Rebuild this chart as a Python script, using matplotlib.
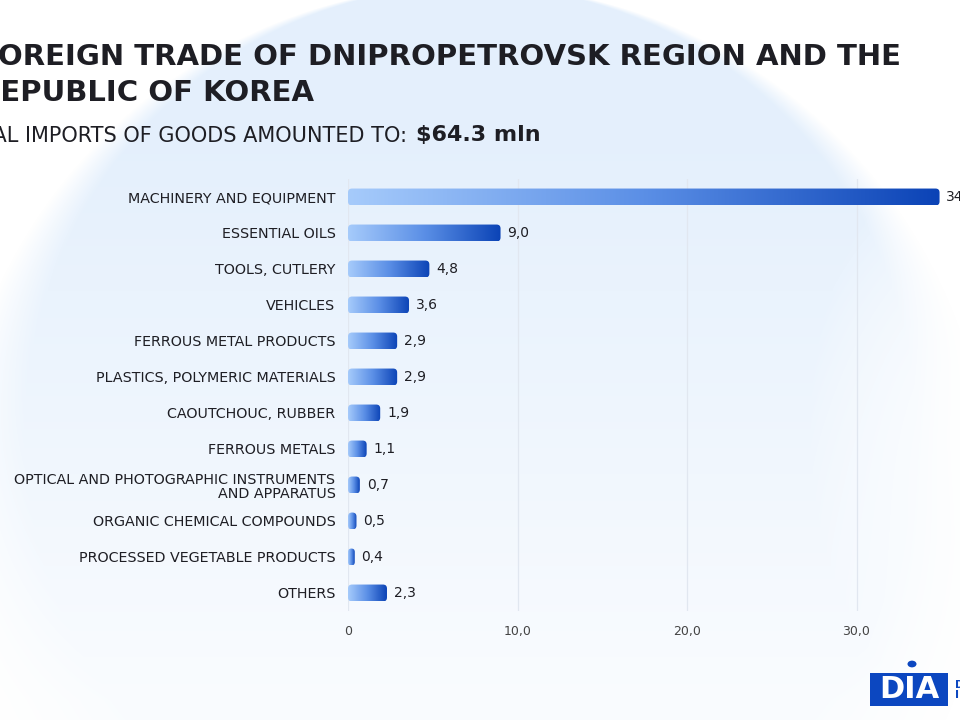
import numpy as np
import matplotlib.pyplot as plt
from matplotlib.colors import LinearSegmentedColormap
from matplotlib.patches import FancyBboxPatch, Circle, Rectangle

# === Data ===
categories = [
    "MACHINERY AND EQUIPMENT",
    "ESSENTIAL OILS",
    "TOOLS, CUTLERY",
    "VEHICLES",
    "FERROUS METAL PRODUCTS",
    "PLASTICS, POLYMERIC MATERIALS",
    "CAOUTCHOUC, RUBBER",
    "FERROUS METALS",
    "OPTICAL AND PHOTOGRAPHIC INSTRUMENTS\nAND APPARATUS",
    "ORGANIC CHEMICAL COMPOUNDS",
    "PROCESSED VEGETABLE PRODUCTS",
    "OTHERS",
]
values = [34.9, 9.0, 4.8, 3.6, 2.9, 2.9, 1.9, 1.1, 0.7, 0.5, 0.4, 2.3]
value_labels = ["34,9", "9,0", "4,8", "3,6", "2,9", "2,9", "1,9", "1,1", "0,7", "0,5", "0,4", "2,3"]
xticks = [0, 10, 20, 30]
xtick_labels = ["0", "10,0", "20,0", "30,0"]

title = "FOREIGN TRADE OF DNIPROPETROVSK REGION AND THE\nREPUBLIC OF KOREA"
subtitle = "TOTAL IMPORTS OF GOODS AMOUNTED TO:"
total = "$64.3 mln"

W, H = 960, 720
text_col = "#1e1e24"
bar_cmap = LinearSegmentedColormap.from_list("bar", ["#a6cbfb", "#5b8fe6", "#0b43b6"])

fig = plt.figure(figsize=(9.6, 7.2), dpi=100)
fig.patch.set_facecolor("white")

# === Background: soft light-blue disc fading downwards ===
bg = fig.add_axes([0, 0, 1, 1], zorder=-5)
yy, xx = np.mgrid[0:H, 0:W].astype(float)
d = np.hypot(xx - 470, yy - 467)
soft = 3 + yy / H * 110
disc = np.clip((482 - d) / soft + 0.5, 0, 1)
vert = np.clip(1.0 - (yy - 140) / 700, 0.2, 1.0)
glow = np.clip(1 - np.hypot((xx - 1000) / 190, (yy - 430) / 300), 0, 1) ** 0.8
inten = disc * vert * (1 - glow)
blue = np.array([0.895, 0.94, 0.99])
img = 1 - (1 - blue)[None, None, :] * inten[..., None]
bg.imshow(img, extent=[0, W, H, 0], aspect="auto")
bg.set_xlim(0, W)
bg.set_ylim(H, 0)
bg.axis("off")

# === Titles ===
fig.text(-22 / W, 1 - 43 / H, title, fontsize=21, fontweight="bold", color=text_col,
         va="top", ha="left", linespacing=1.36, family="DejaVu Sans")
sub = fig.text(-48 / W, 1 - 136 / H, subtitle, fontsize=15, color=text_col,
               va="center", ha="left", family="DejaVu Sans")
fig.canvas.draw()
bb = sub.get_window_extent()
fig.text((bb.x1 + 9) / W, 1 - 135 / H, total, fontsize=16, fontweight="bold", color=text_col,
         va="center", ha="left", family="DejaVu Sans")

# === Bar chart ===
ax = fig.add_axes([348 / W, 1 - 611 / H, 678 / W, 432 / H])
ax.patch.set_alpha(0)
y = np.arange(len(categories))
bars = ax.barh(y, values, height=0.47, color="none")
ax.set_xlim(0, 40)
ax.set_ylim(len(categories) - 0.5, -0.5)

px_x = 678 / 40
px_y = 432 / len(categories)
for b in bars:
    x0, y0, w, h = b.get_x(), b.get_y(), b.get_width(), b.get_height()
    r = min(4.0 / px_x, w / 2)
    clip = FancyBboxPatch((x0, y0), w, h,
                          boxstyle=f"round,pad=0,rounding_size={r}",
                          mutation_aspect=px_x / px_y,
                          transform=ax.transData, facecolor="none", edgecolor="none")
    ax.add_patch(clip)
    grad = np.linspace(0, 1, 256).reshape(1, -1)
    im = ax.imshow(grad, cmap=bar_cmap, extent=[x0, x0 + w, y0 + h, y0],
                   aspect="auto", zorder=3, interpolation="bicubic")
    im.set_clip_path(clip)

ax.set_xlim(0, 40)
ax.set_ylim(len(categories) - 0.5, -0.5)

for yi, v, lab in zip(y, values, value_labels):
    ax.text(v + 0.4, yi, lab, va="center", ha="left", fontsize=10, color=text_col,
            family="DejaVu Sans", zorder=4)

ax.set_yticks(y)
ax.set_yticklabels(categories, fontsize=10.3, color=text_col, family="DejaVu Sans",
                   linespacing=1.05)
for t in ax.get_yticklabels():
    t.set_horizontalalignment("right")
    t.set_multialignment("right")
ax.tick_params(axis="y", length=0, pad=9)
ax.set_xticks(xticks)
ax.set_xticklabels(xtick_labels, fontsize=9, color="#444444", family="DejaVu Sans")
ax.tick_params(axis="x", length=0, pad=10)
ax.grid(axis="x", color="#e1e7f0", linewidth=0.9, zorder=0)
ax.set_axisbelow(True)
for s in ax.spines.values():
    s.set_visible(False)

# === Logo ===
logo_col = "#0c47c0"
fig.patches.append(Rectangle((870 / W, 1 - 706 / H), 78 / W, 33 / H, transform=fig.transFigure,
                             facecolor=logo_col, edgecolor="none"))
fig.text(909 / W, 1 - 690 / H, "DIA", fontsize=22, fontweight="bold", color="white",
         va="center", ha="center", family="DejaVu Sans")
fig.patches.append(Circle((912 / W, 1 - 664 / H), 4.5 / W, transform=fig.transFigure,
                          facecolor=logo_col, edgecolor="none"))
fig.text(955 / W, 1 - 690 / H, "D\nI", fontsize=8, fontweight="bold", color=logo_col,
         va="center", ha="left", family="DejaVu Sans", linespacing=1.1)

fig.savefig("out.png", dpi=100)
